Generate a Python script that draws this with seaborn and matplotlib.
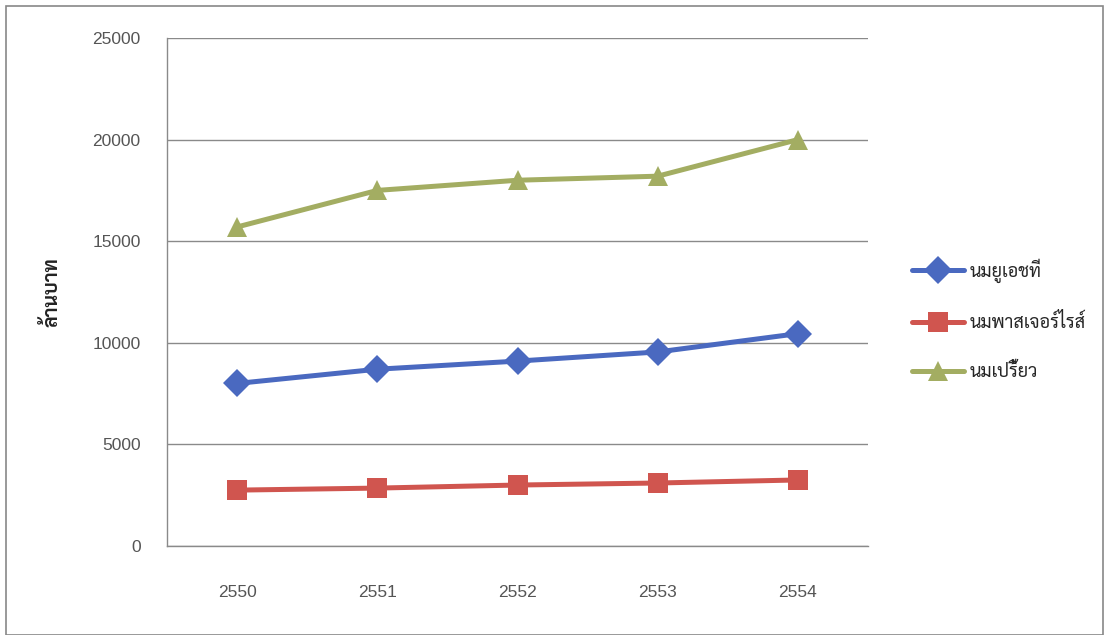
import matplotlib
matplotlib.use("Agg")
import matplotlib.pyplot as plt
from matplotlib import font_manager as fm
from matplotlib.patches import Rectangle
import seaborn as sns
import pandas as pd

years = ["2550", "2551", "2552", "2553", "2554"]
uht = [8000, 8700, 9100, 9550, 10450]
pasteurized = [2750, 2850, 3000, 3100, 3250]
sour = [15700, 17500, 18000, 18200, 20000]
series_names = ["นมยูเอชที", "นมพาสเจอร์ไรส์", "นมเปรี้ยว"]
y_ticks = [0, 5000, 10000, 15000, 20000, 25000]
y_label = "ล้านบาท"

df = pd.DataFrame({
    "year": years * 3,
    "value": uht + pasteurized + sour,
    "series": [series_names[0]] * 5 + [series_names[1]] * 5 + [series_names[2]] * 5,
})

sns.set_style("white")
names = {f.name for f in fm.fontManager.ttflist}
thai = next((n for n in ["Sarabun", "Thasadith", "Noto Sans Thai", "Kanit", "Prompt", "Taviraj", "Trirong"] if n in names), "DejaVu Sans")
plt.rcParams["font.family"] = ["Liberation Sans", thai, "DejaVu Sans"]

colors = ["#4a69c0", "#d0554f", "#a3ad62"]
fig = plt.figure(figsize=(11.09, 6.35), dpi=100)
ax = fig.add_axes([167 / 1109, 1 - 546 / 635, (868 - 167) / 1109, (546 - 38) / 635])

sns.lineplot(data=df, x="year", y="value", hue="series", style="series",
             palette=colors, markers=["D", "s", "^"], dashes=False,
             linewidth=3.6, markersize=14, markeredgewidth=0, ax=ax, sort=False)

ax.set_xlim(-0.5, 4.5)
ax.set_ylim(0, 25000)
ax.set_yticks(y_ticks)
ax.set_yticklabels([str(v) for v in y_ticks])
ax.grid(axis="y", color="#8a8a8a", linewidth=1.0)
ax.grid(axis="x", visible=False)
for s in ["top", "right"]:
    ax.spines[s].set_visible(False)
for s in ["left", "bottom"]:
    ax.spines[s].set_color("#8a8a8a")
    ax.spines[s].set_linewidth(1.0)
ax.tick_params(axis="y", length=0, pad=19, labelsize=12.5, labelcolor="#555555")
ax.tick_params(axis="x", length=0, pad=28, labelsize=12.5, labelcolor="#555555")
ax.set_xlabel("")
ax.set_ylabel(y_label, fontsize=14, color="#222222", fontweight="bold", labelpad=22,
              family=[thai, "DejaVu Sans"])

h, l = ax.get_legend_handles_labels()
ax.legend(h, l, loc="center left", bbox_to_anchor=(1.039, 0.445), frameon=False,
          handlelength=2.9, handletextpad=0.3, labelspacing=1.7,
          prop={"family": [thai, "DejaVu Sans"], "size": 13})

fig.add_artist(Rectangle((6 / 1109, 0), 1097 / 1109, 1 - 6 / 635, transform=fig.transFigure,
                         fill=False, edgecolor="#888888", linewidth=1.2))

fig.savefig("out.png", dpi=100)
